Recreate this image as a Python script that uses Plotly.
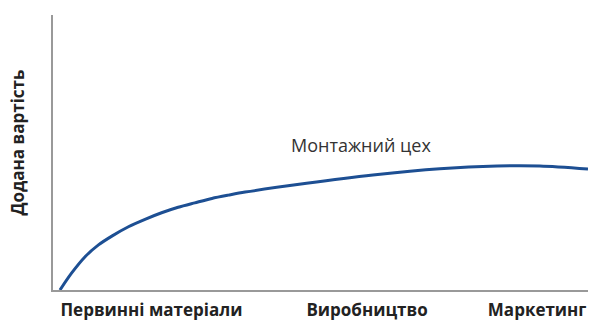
import plotly.graph_objects as go

# Curve values (x: position along value chain 0-100, y: added value 0-100)
curve_x = [1.3, 3.5, 6.0, 8.5, 11.0, 14.1, 17.2, 20.3, 23.4, 26.5, 29.7, 32.8, 35.9,
           47.4, 59.8, 72.3, 83.0, 91.0, 100.0]
curve_y = [0.0, 6.2, 12.1, 16.4, 19.6, 23.0, 25.7, 28.1, 30.1, 31.7, 33.3, 34.5, 35.6,
           38.8, 41.8, 44.1, 45.1, 45.1, 44.0]

tick_positions = [18.4, 58.7, 90.5]
tick_labels = ["Первинні матеріали", "Виробництво", "Маркетинг"]

y_title = "Додана вартість"
curve_label = "Монтажний цех"
curve_label_pos = (57.5, 52.7)

fig = go.Figure()
fig.add_trace(go.Scatter(
    x=curve_x, y=curve_y, mode="lines",
    line=dict(color="#1d4f93", width=3, shape="spline", smoothing=0.8),
    hoverinfo="skip", showlegend=False, cliponaxis=False,
))

fig.add_annotation(
    x=curve_label_pos[0], y=curve_label_pos[1], xref="x", yref="y",
    text=curve_label, showarrow=False,
    font=dict(family="Open Sans", size=18, color="#333333"),
)
fig.add_annotation(
    x=0, y=0.5, xref="paper", yref="paper", xanchor="center", yanchor="middle",
    text="<b>" + y_title + "</b>", showarrow=False, textangle=-90,
    font=dict(family="Open Sans", size=17, color="#222222"),
    xshift=-36, yshift=10,
)

fig.update_xaxes(
    range=[0, 100], showgrid=False, zeroline=False,
    showline=True, linecolor="#999999", linewidth=2,
    tickvals=tick_positions, ticktext=["<b>" + t + "</b>" for t in tick_labels],
    ticks="", tickfont=dict(family="Open Sans", size=17, color="#222222"),
    ticklabelstandoff=4, automargin=False,
    fixedrange=True,
)
fig.update_yaxes(
    range=[0, 100], showgrid=False, zeroline=False,
    showline=True, linecolor="#999999", linewidth=2,
    showticklabels=False, ticks="", fixedrange=True,
)
fig.update_layout(
    width=590, height=321,
    margin=dict(l=53, r=2, t=15, b=31),
    plot_bgcolor="white", paper_bgcolor="white",
)

fig.write_html("out.html")
